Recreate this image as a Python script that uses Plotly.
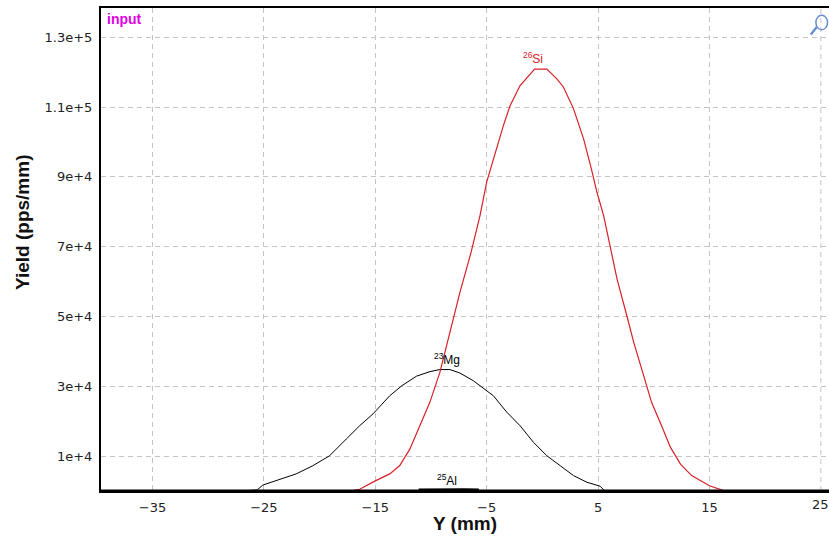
import plotly.graph_objects as go

# 26Si yield profile (red)
si_x = [-17.3, -16.4, -15.0, -13.7, -12.8, -11.9, -11.0, -10.1, -9.2, -8.3, -7.4, -6.4,
        -5.6, -5.0, -4.4, -3.5, -2.9, -2.0, -0.7, 0.4, 1.3, 1.9, 2.8, 3.7, 4.4, 4.9,
        5.5, 6.1, 6.7, 7.6, 8.2, 9.1, 9.8, 10.7, 11.5, 12.4, 13.4, 15.0, 16.2, 17.3]
si_y = [0, 500, 2900, 4900, 7300, 12000, 18700, 25400, 34000, 45500, 56900, 68400,
        78900, 88500, 95100, 104700, 110400, 116200, 120900, 120900, 118100, 115700, 109500, 100900, 92300, 85600,
        78900, 70300, 60800, 50000, 42600, 33000, 25400, 18700, 12500, 7700, 4400, 1500, 200, 0]

# 23Mg yield profile (black)
mg_x = [-27.0, -25.6, -25.1, -23.6, -22.1, -20.6, -19.1, -17.6, -16.4, -15.2, -13.7, -12.6,
        -11.3, -10.1, -9.2, -8.3, -7.4, -6.2, -5.6, -4.4, -3.2, -2.0, -0.8, 0.4,
        1.6, 2.8, 4.0, 5.2, 5.6]
mg_y = [0, 300, 1700, 3400, 4900, 7250, 10100, 14900, 18700, 22100, 27300, 30200,
        32900, 34200, 34800, 34800, 33800, 31600, 30200, 27300, 22600, 18700, 13950, 10100,
        7250, 4400, 2500, 1350, 0]

# 25Al yield profile (black, very small)
al_x = [-11.1, -10.0, -9.0, -8.0, -7.0, -5.7]
al_y = [300, 350, 400, 400, 350, 300]

x_ticks = [-35, -25, -15, -5, 5, 15]
x_edge_tick = 25
y_ticks = [10000, 30000, 50000, 70000, 90000, 110000, 130000]
y_tick_text = ["1e+4", "3e+4", "5e+4", "7e+4", "9e+4", "1.1e+5", "1.3e+5"]

fig = go.Figure()
fig.add_trace(go.Scatter(x=mg_x, y=mg_y, mode="lines", line=dict(color="#000000", width=1), showlegend=False))
fig.add_trace(go.Scatter(x=al_x, y=al_y, mode="lines", line=dict(color="#000000", width=3), showlegend=False))
fig.add_trace(go.Scatter(x=si_x, y=si_y, mode="lines", line=dict(color="#d82028", width=1.2), showlegend=False))

lab_font = dict(family="Liberation Sans, Arial", size=12)
fig.add_annotation(x=-0.8, y=max(si_y), text="<sup>26</sup>Si", showarrow=False,
                   yanchor="bottom", yshift=1, font=dict(lab_font, color="#d82028"))
fig.add_annotation(x=-8.6, y=max(mg_y), text="<sup>23</sup>Mg", showarrow=False,
                   yanchor="bottom", yshift=1, font=dict(lab_font, color="#000000"))
fig.add_annotation(x=-8.6, y=max(al_y), text="<sup>25</sup>Al", showarrow=False,
                   yanchor="bottom", yshift=0, font=dict(lab_font, color="#000000"))

fig.add_annotation(xref="paper", yref="paper", x=0.005, y=0.997, text="<b>input</b>",
                   showarrow=False, xanchor="left", yanchor="top",
                   font=dict(family="Liberation Sans Narrow, Liberation Sans, Arial", size=14, color="#e000e0"))

# edge tick label (partly cut by the window edge in the original)
fig.add_annotation(x=x_edge_tick, yref="paper", y=-(505 - 491) / 483, text=str(x_edge_tick),
                   showarrow=False, xanchor="center", yanchor="middle",
                   font=dict(family="DejaVu Sans", size=13, color="#222"))

fig.add_annotation(xref="paper", yref="paper", x=(465 - 101) / 728, y=-(523 - 491) / 483, text="<b>Y (mm)</b>",
                   showarrow=False, xanchor="center", yanchor="middle",
                   font=dict(family="Liberation Sans, Arial", size=19, color="#111"))
fig.add_annotation(xref="paper", yref="paper", x=(22 - 101) / 728, y=(491 - 223) / 483, text="<b>Yield (pps/mm)</b>",
                   showarrow=False, textangle=-90, xanchor="center", yanchor="middle",
                   font=dict(family="Liberation Sans, Arial", size=19, color="#111"))

# magnifier icon
fig.add_shape(type="circle", xref="paper", yref="paper", x0=0.982, x1=0.998, y0=0.955, y1=0.985,
              line=dict(color="#6a8fd0", width=1.5))
fig.add_shape(type="line", xref="paper", yref="paper", x0=0.983, x1=0.975, y0=0.96, y1=0.945,
              line=dict(color="#6a8fd0", width=2.5))
# thicker bottom axis
fig.add_shape(type="line", xref="paper", yref="paper", x0=0, x1=1, y0=0, y1=0,
              line=dict(color="#000", width=3))
# grid line at the edge tick
fig.add_shape(type="line", x0=x_edge_tick, x1=x_edge_tick, yref="paper", y0=0, y1=1,
              line=dict(color="#c4c4c4", width=1, dash="5px,4px"), layer="below")

fig.update_layout(
    width=829, height=537,
    margin=dict(l=101, r=0, t=8, b=46),
    paper_bgcolor="white", plot_bgcolor="white",
    font=dict(family="DejaVu Sans", size=13, color="#222"),
)
fig.update_xaxes(range=[-39.62, 25.73], tickvals=x_ticks, showgrid=True, gridcolor="#c4c4c4",
                 griddash="5px,4px", gridwidth=1, zeroline=False, showline=True, linecolor="#000",
                 linewidth=2, mirror=True, ticks="outside", ticklen=3, tickcolor="rgba(0,0,0,0)",
                 tickfont=dict(family="DejaVu Sans", size=13, color="#222"))
fig.update_yaxes(range=[0, 138400], tickvals=y_ticks, ticktext=y_tick_text, showgrid=True,
                 gridcolor="#c4c4c4", griddash="5px,4px", gridwidth=1, zeroline=False, showline=True,
                 linecolor="#000", linewidth=2, mirror=False, ticks="outside", ticklen=4,
                 tickcolor="rgba(0,0,0,0)", tickfont=dict(family="DejaVu Sans", size=13, color="#222"))

fig.write_html("out.html")
